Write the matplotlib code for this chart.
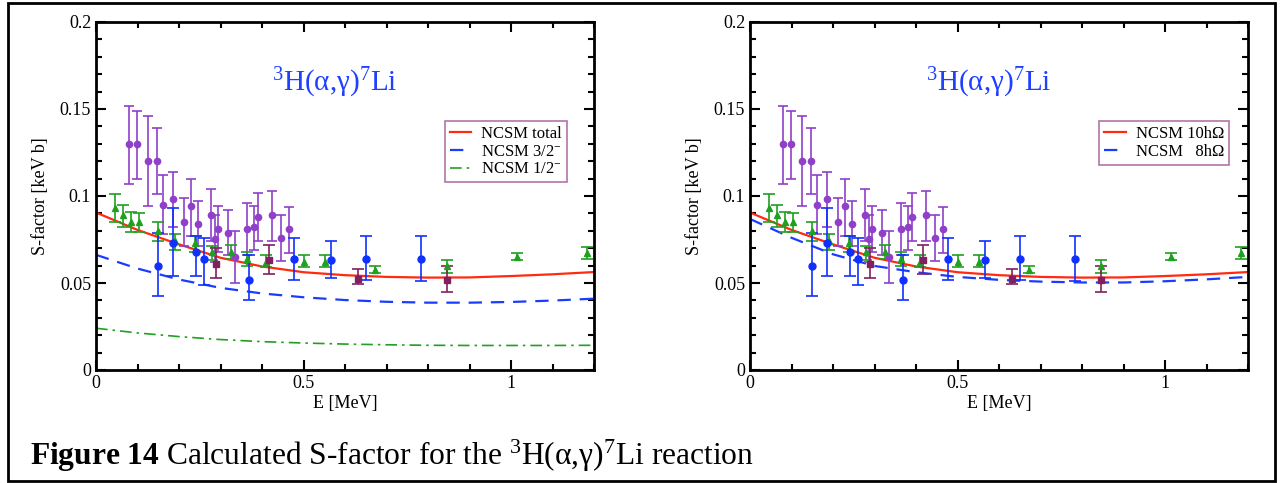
import numpy as np
import matplotlib
matplotlib.use("Agg")
import matplotlib.pyplot as plt
from matplotlib.ticker import MultipleLocator
from matplotlib.patches import Rectangle

plt.rcParams['font.family'] = ['Liberation Serif', 'DejaVu Serif']
plt.rcParams['mathtext.fontset'] = 'custom'
plt.rcParams['mathtext.rm'] = 'Liberation Serif'
plt.rcParams['mathtext.it'] = 'Liberation Serif:italic'
plt.rcParams['mathtext.bf'] = 'Liberation Serif:bold'

# ---- data ----
# purple circles
pur_E = [0.079, 0.099, 0.126, 0.146, 0.162, 0.185, 0.213, 0.228, 0.245, 0.277,
         0.287, 0.294, 0.319, 0.335, 0.364, 0.380, 0.391, 0.423, 0.446, 0.465]
pur_S = [0.130, 0.130, 0.120, 0.120, 0.095, 0.098, 0.085, 0.094, 0.084, 0.089,
         0.0755, 0.081, 0.079, 0.065, 0.081, 0.082, 0.088, 0.089, 0.0757, 0.081]
pur_lo = [0.107, 0.110, 0.094, 0.101, 0.078, 0.082, 0.071, 0.077, 0.071, 0.074,
          0.062, 0.068, 0.066, 0.050, 0.066, 0.069, 0.074, 0.074, 0.0625, 0.067]
pur_hi = [0.152, 0.149, 0.146, 0.139, 0.112, 0.114, 0.099, 0.110, 0.097, 0.104,
          0.089, 0.094, 0.092, 0.080, 0.096, 0.0945, 0.102, 0.103, 0.089, 0.0935]

# green triangles
grn_E = [0.046, 0.064, 0.085, 0.103, 0.150, 0.191, 0.239, 0.280, 0.326, 0.365,
         0.410, 0.500, 0.552, 0.672, 0.845, 1.014, 1.182]
grn_S = [0.093, 0.089, 0.085, 0.085, 0.080, 0.074, 0.073, 0.068, 0.068, 0.064,
         0.062, 0.062, 0.062, 0.0575, 0.060, 0.065, 0.067]
grn_lo = [0.085, 0.082, 0.0795, 0.0795, 0.074, 0.069, 0.068, 0.063, 0.064, 0.060,
          0.059, 0.059, 0.059, 0.056, 0.056, 0.063, 0.064]
grn_hi = [0.101, 0.095, 0.091, 0.0905, 0.085, 0.078, 0.077, 0.071, 0.072, 0.068,
          0.066, 0.066, 0.066, 0.060, 0.063, 0.0675, 0.0705]

# blue circles
blu_E = [0.150, 0.185, 0.240, 0.260, 0.369, 0.477, 0.566, 0.651, 0.784]
blu_S = [0.060, 0.073, 0.068, 0.064, 0.052, 0.064, 0.063, 0.064, 0.064]
blu_lo = [0.0425, 0.054, 0.054, 0.049, 0.040, 0.0515, 0.053, 0.052, 0.051]
blu_hi = [0.0786, 0.093, 0.077, 0.076, 0.066, 0.076, 0.074, 0.077, 0.077]

# maroon squares
mar_E = [0.289, 0.416, 0.632, 0.845]
mar_S = [0.061, 0.063, 0.0525, 0.052]
mar_lo = [0.053, 0.055, 0.0495, 0.045]
mar_hi = [0.070, 0.072, 0.058, 0.060]

# NCSM curves
curve_E = [0.0, 0.1, 0.2, 0.3, 0.4, 0.5, 0.6, 0.7, 0.8, 0.9, 1.0, 1.1, 1.2]
ncsm_total = [0.0905, 0.0805, 0.0722, 0.0645, 0.0595, 0.0562, 0.0545, 0.0535,
              0.0531, 0.0532, 0.0540, 0.0550, 0.0563]
ncsm_32 = [0.0662, 0.0583, 0.0520, 0.0472, 0.0440, 0.0418, 0.0402, 0.0392,
           0.0387, 0.0387, 0.0391, 0.0399, 0.0410]
ncsm_12 = [0.0240, 0.0213, 0.0192, 0.0175, 0.0163, 0.0155, 0.0149, 0.0145,
           0.0142, 0.0141, 0.0141, 0.0141, 0.0142]
ncsm_8hw = [0.0868, 0.0760, 0.0665, 0.0598, 0.0562, 0.0535, 0.0518, 0.0508,
            0.0503, 0.0503, 0.0510, 0.0521, 0.0535]

fig = plt.figure(figsize=(12.8, 4.83), dpi=100)

# outer frame
fig.patches.append(Rectangle((0.006, 0.004), 0.990, 0.990, transform=fig.transFigure,
                             fill=False, edgecolor='black', linewidth=2))

ax1 = fig.add_axes([96 / 1280, 1 - 370 / 483, 498 / 1280, 348 / 483])
ax2 = fig.add_axes([750 / 1280, 1 - 370 / 483, 498 / 1280, 348 / 483])


def draw_points(ax):
    sets = [
        (pur_E, pur_S, pur_lo, pur_hi, '#9040c8', 'o', 4.5, 3.5),
        (grn_E, grn_S, grn_lo, grn_hi, '#20a020', '^', 4.5, 4.5),
        (blu_E, blu_S, blu_lo, blu_hi, '#1030ff', 'o', 5, 4),
        (mar_E, mar_S, mar_lo, mar_hi, '#802060', 's', 4.5, 4),
    ]
    for E, S, lo, hi, col, m, ms, cs in sets:
        S = np.array(S)
        err = [S - np.array(lo), np.array(hi) - S]
        ax.errorbar(E, S, yerr=err, fmt=m, color=col, ms=ms, capsize=cs,
                    elinewidth=1.2, capthick=1.2, zorder=3)


def style_axes(ax):
    ax.set_xlim(0, 1.2)
    ax.set_ylim(0, 0.2)
    ax.xaxis.set_major_locator(MultipleLocator(0.5))
    ax.xaxis.set_minor_locator(MultipleLocator(0.1))
    ax.yaxis.set_major_locator(MultipleLocator(0.05))
    ax.yaxis.set_minor_locator(MultipleLocator(0.01))
    ax.xaxis.set_major_formatter(plt.FuncFormatter(lambda v, p: ('%g' % v)))
    ax.yaxis.set_major_formatter(plt.FuncFormatter(lambda v, p: ('%g' % v)))
    ax.tick_params(which='both', direction='in', top=True, right=True, width=1.5,
                   labelsize=13)
    ax.tick_params(which='major', length=7)
    ax.tick_params(which='minor', length=4)
    for sp in ax.spines.values():
        sp.set_linewidth(2)
    ax.set_xlabel('E [MeV]', fontsize=13, labelpad=2)
    ax.set_ylabel('S-factor [keV b]', fontsize=13, labelpad=8)
    ax.text(0.575, 0.165, r'$^{3}$H(α,γ)$^{7}$Li', color='#2040ff', fontsize=21,
            ha='center', va='center')


# left panel
draw_points(ax1)
ax1.plot(curve_E, ncsm_total, color='#ff2a10', lw=1.6, label='NCSM total', zorder=2)
ax1.plot(curve_E, ncsm_32, color='#1a3cff', lw=1.6, ls=(0, (6, 4)),
         label=r'NCSM 3/2$^{-}$', zorder=2)
ax1.plot(curve_E, ncsm_12, color='#20a020', lw=1.2, ls=(0, (7, 3, 1.5, 3)),
         label=r'NCSM 1/2$^{-}$', zorder=2)
style_axes(ax1)
leg1 = ax1.legend(loc='upper right', bbox_to_anchor=(0.946, 0.7155), borderaxespad=0,
                  fontsize=12, fancybox=False, edgecolor='#a05090', handlelength=1.3,
                  labelspacing=0.1, borderpad=0.3, handletextpad=0.6)
leg1.get_frame().set_linewidth(1.2)

# right panel
draw_points(ax2)
ax2.plot(curve_E, ncsm_total, color='#ff2a10', lw=1.6, label='NCSM 10hΩ', zorder=2)
ax2.plot(curve_E, ncsm_8hw, color='#1a3cff', lw=1.6, ls=(0, (6, 4)),
         label='NCSM   8hΩ', zorder=2)
style_axes(ax2)
leg2 = ax2.legend(loc='upper right', bbox_to_anchor=(0.962, 0.7155), borderaxespad=0,
                  fontsize=12, fancybox=False, edgecolor='#a05090', handlelength=1.3,
                  labelspacing=0.1, borderpad=0.3, handletextpad=0.6)
leg2.get_frame().set_linewidth(1.2)

# caption
fig.text(30 / 1280, 1 - 465 / 483, r'$\mathbf{Figure\ 14}$ Calculated S-factor for the '
         r'$^{3}$H(α,γ)$^{7}$Li reaction', fontsize=22.7, ha='left', va='baseline')

fig.savefig('out.png', dpi=100)
